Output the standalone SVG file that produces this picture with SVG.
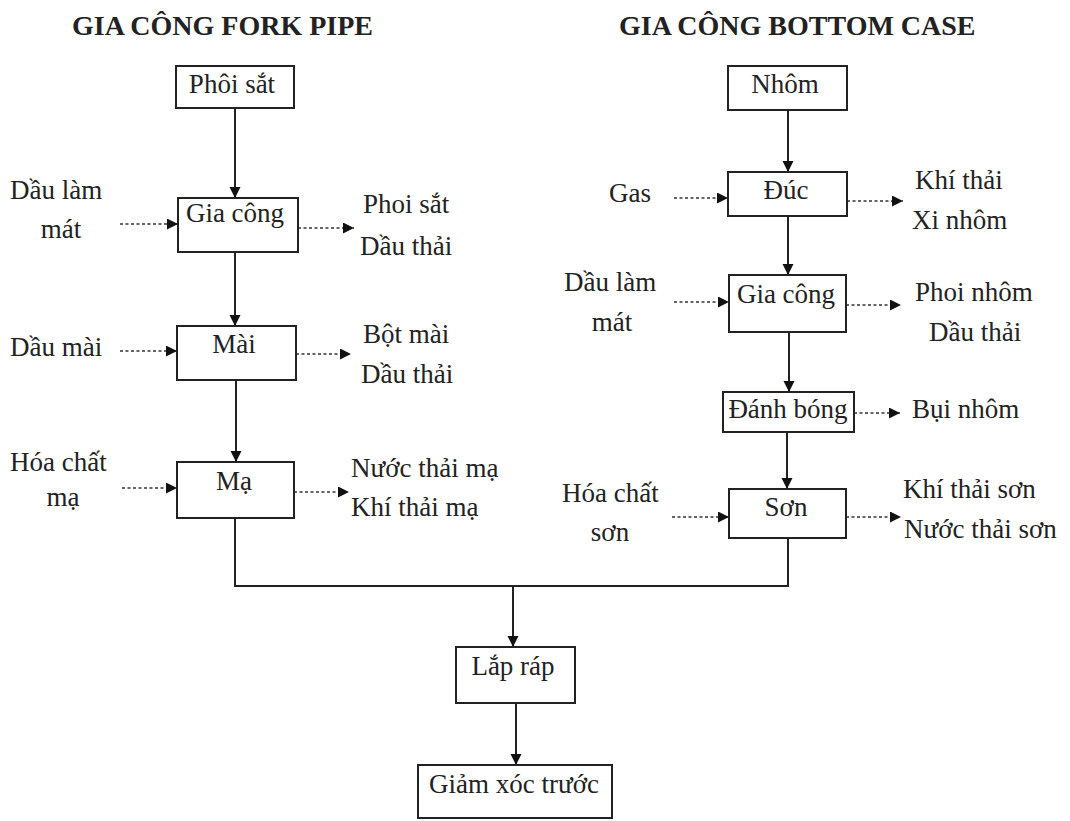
<svg xmlns="http://www.w3.org/2000/svg" width="1070" height="821" viewBox="0 0 1070 821">
<defs>
<style>
text{font-family:"Liberation Serif","Times New Roman",serif;font-size:27px;fill:#222}
.title{font-size:28px;font-weight:bold}
.c{text-anchor:middle}
.box{fill:#fff;stroke:#222;stroke-width:2}
.flow{fill:none;stroke:#222;stroke-width:2}
.aux{fill:none;stroke:#333;stroke-width:1.6;stroke-dasharray:3 2.5}
</style>
<marker id="ah" viewBox="0 0 10 10" refX="10" refY="5" markerWidth="11" markerHeight="12" markerUnits="userSpaceOnUse" orient="auto"><path d="M0,0L10,5L0,10z" fill="#111"/></marker>
<marker id="ad" viewBox="0 0 10 10" refX="10" refY="5" markerWidth="11" markerHeight="11" markerUnits="userSpaceOnUse" orient="auto"><path d="M0,0L10,5L0,10z" fill="#111"/></marker>
</defs>
<rect width="1070" height="821" fill="#fff"/>
<g id="titles">
<text class="title" x="72" y="35">GIA CÔNG FORK PIPE</text>
<text class="title" x="619" y="35">GIA CÔNG BOTTOM CASE</text>
</g>
<g id="connectors">
<line class="flow" x1="235" y1="108" x2="235" y2="198" marker-end="url(#ah)"/>
<line class="flow" x1="235" y1="252" x2="235" y2="326" marker-end="url(#ah)"/>
<line class="flow" x1="236" y1="380" x2="236" y2="462" marker-end="url(#ah)"/>
<polyline class="flow" points="235,518 235,586 788,586 788,538"/>
<line class="flow" x1="513" y1="586" x2="513" y2="647" marker-end="url(#ah)"/>
<line class="flow" x1="516" y1="703" x2="516" y2="765" marker-end="url(#ah)"/>
<line class="flow" x1="788" y1="110" x2="788" y2="172" marker-end="url(#ah)"/>
<line class="flow" x1="788" y1="216" x2="788" y2="275" marker-end="url(#ah)"/>
<line class="flow" x1="789" y1="332" x2="789" y2="392" marker-end="url(#ah)"/>
<line class="flow" x1="787" y1="432" x2="787" y2="489" marker-end="url(#ah)"/>
<line class="aux" x1="120" y1="224" x2="178" y2="224" marker-end="url(#ad)"/>
<line class="aux" x1="298" y1="228" x2="354" y2="228" marker-end="url(#ad)"/>
<line class="aux" x1="120" y1="351" x2="177" y2="351" marker-end="url(#ad)"/>
<line class="aux" x1="296" y1="354" x2="351" y2="354" marker-end="url(#ad)"/>
<line class="aux" x1="122" y1="488" x2="177" y2="488" marker-end="url(#ad)"/>
<line class="aux" x1="294" y1="492" x2="349" y2="492" marker-end="url(#ad)"/>
<line class="aux" x1="674" y1="198" x2="728" y2="198" marker-end="url(#ad)"/>
<line class="aux" x1="847" y1="201" x2="903" y2="201" marker-end="url(#ad)"/>
<line class="aux" x1="674" y1="302" x2="729" y2="302" marker-end="url(#ad)"/>
<line class="aux" x1="846" y1="305" x2="901" y2="305" marker-end="url(#ad)"/>
<line class="aux" x1="854" y1="413" x2="900" y2="413" marker-end="url(#ad)"/>
<line class="aux" x1="672" y1="517" x2="729" y2="517" marker-end="url(#ad)"/>
<line class="aux" x1="846" y1="517" x2="901" y2="517" marker-end="url(#ad)"/>
</g>
<g id="phoi-sat"><rect class="box" x="176" y="66" width="118" height="42"/><text class="c" x="232" y="93">Phôi sắt</text></g>
<g id="gia-cong-1"><rect class="box" x="178" y="198" width="120" height="54"/><text class="c" x="235" y="222">Gia công</text></g>
<g id="mai"><rect class="box" x="177" y="326" width="119" height="54"/><text class="c" x="234" y="353">Mài</text></g>
<g id="ma"><rect class="box" x="177" y="462" width="117" height="56"/><text class="c" x="234" y="490">Mạ</text></g>
<g id="nhom"><rect class="box" x="728" y="66" width="119" height="44"/><text class="c" x="785" y="93">Nhôm</text></g>
<g id="duc"><rect class="box" x="728" y="172" width="119" height="44"/><text class="c" x="786" y="199">Đúc</text></g>
<g id="gia-cong-2"><rect class="box" x="729" y="275" width="117" height="57"/><text class="c" x="786" y="303">Gia công</text></g>
<g id="danh-bong"><rect class="box" x="723" y="392" width="131" height="40"/><text class="c" x="788" y="418">Đánh bóng</text></g>
<g id="son"><rect class="box" x="729" y="489" width="117" height="49"/><text class="c" x="786" y="516">Sơn</text></g>
<g id="lap-rap"><rect class="box" x="456" y="647" width="119" height="56"/><text class="c" x="513" y="675">Lắp ráp</text></g>
<g id="giam-xoc"><rect class="box" x="418" y="765" width="194" height="53"/><text class="c" x="514" y="793">Giảm xóc trước</text></g>
<g id="in-dau-lam-mat-1"><text x="10" y="199">Dầu làm</text><text class="c" x="61" y="238">mát</text></g>
<g id="out-gia-cong-1"><text x="363" y="213">Phoi sắt</text><text x="360" y="255">Dầu thải</text></g>
<g id="in-dau-mai"><text x="10" y="356">Dầu mài</text></g>
<g id="out-mai"><text x="363" y="343">Bột mài</text><text x="361" y="383">Dầu thải</text></g>
<g id="in-hoa-chat-ma"><text x="10" y="471">Hóa chất</text><text class="c" x="63" y="506">mạ</text></g>
<g id="out-ma"><text x="351" y="477">Nước thải mạ</text><text x="351" y="516">Khí thải mạ</text></g>
<g id="in-gas"><text x="609" y="202">Gas</text></g>
<g id="out-duc"><text x="915" y="189">Khí thải</text><text x="912" y="229">Xi nhôm</text></g>
<g id="in-dau-lam-mat-2"><text x="564" y="291">Dầu làm</text><text class="c" x="612" y="331">mát</text></g>
<g id="out-gia-cong-2"><text x="915" y="301">Phoi nhôm</text><text x="929" y="341">Dầu thải</text></g>
<g id="out-danh-bong"><text x="912" y="418">Bụi nhôm</text></g>
<g id="in-hoa-chat-son"><text x="562" y="502">Hóa chất</text><text class="c" x="610" y="541">sơn</text></g>
<g id="out-son"><text x="903" y="498">Khí thải sơn</text><text x="904" y="538">Nước thải sơn</text></g>
</svg>
